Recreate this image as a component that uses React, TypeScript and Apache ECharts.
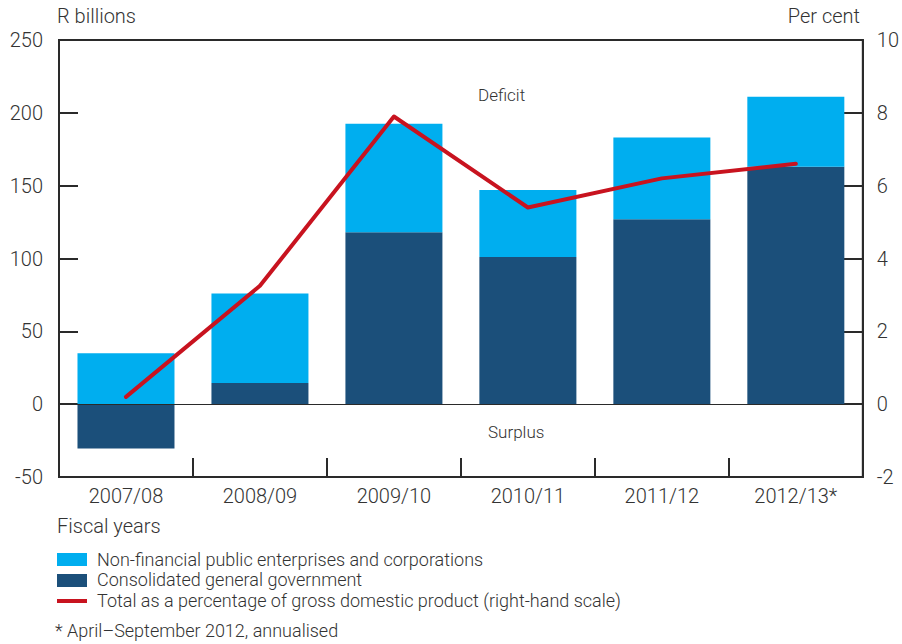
import React, { useEffect, useRef } from "react";
import * as echarts from "echarts";

const categories = ["2007/08", "2008/09", "2009/10", "2010/11", "2011/12", "2012/13*"];
const generalGovernment = [-30.5, 14.5, 118, 101, 127, 163];
const publicEnterprises = [35, 61.5, 74.5, 46, 56, 48];
const pctOfGdp = [0.2, 3.25, 7.9, 5.4, 6.2, 6.6];
const leftTicks = { min: -50, max: 250, interval: 50 };
const rightTicks = { min: -2, max: 10, interval: 2 };

const FONT = "Roboto, 'Liberation Sans', Arial, sans-serif";
const TXT = "#333333";
const LIGHT = "#00AEEF";
const DARK = "#1B4F7A";
const RED = "#C8131F";

export default function App() {
  const ref = useRef<HTMLDivElement>(null);
  useEffect(() => {
    document.body.style.margin = "0";
    const chart = echarts.init(ref.current!, null, { renderer: "svg" });
    const textStyle = { fontFamily: FONT, fontSize: 20, color: TXT, fontWeight: 300 };
    const small = { fontFamily: FONT, fontSize: 18, fontWeight: 300, fill: TXT };
    chart.setOption({
      animation: false,
      textStyle: { fontFamily: FONT },
      grid: {
        left: 59,
        right: 38,
        top: 40,
        bottom: 167,
        show: true,
        borderColor: "#2a2a2a",
        borderWidth: 2,
        backgroundColor: "transparent",
      },
      xAxis: {
        type: "category",
        data: categories,
        boundaryGap: true,
        axisLine: { show: true, onZero: false, lineStyle: { color: "#2a2a2a", width: 2 } },
        axisTick: { show: true, inside: true, length: 19, lineStyle: { color: "#2a2a2a", width: 2 } },
        axisLabel: { ...textStyle, margin: 9 },
      },
      yAxis: [
        {
          type: "value",
          ...leftTicks,
          position: "left",
          axisLine: { show: true, lineStyle: { color: "#2a2a2a", width: 2 } },
          axisTick: { show: true, inside: true, length: 19, lineStyle: { color: "#2a2a2a", width: 2 } },
          axisLabel: { ...textStyle, margin: 16 },
          splitLine: { show: false },
        },
        {
          type: "value",
          ...rightTicks,
          position: "right",
          axisLine: { show: true, lineStyle: { color: "#2a2a2a", width: 2 } },
          axisTick: { show: true, inside: true, length: 20, lineStyle: { color: "#2a2a2a", width: 2 } },
          axisLabel: { ...textStyle, margin: 14 },
          splitLine: { show: false },
        },
      ],
      series: [
        {
          name: "Consolidated general government",
          type: "bar",
          stack: "total",
          data: generalGovernment,
          barWidth: 97,
          itemStyle: { color: DARK },
          z: 2,
        },
        {
          name: "Non-financial public enterprises and corporations",
          type: "bar",
          stack: "total",
          data: publicEnterprises,
          barWidth: 97,
          itemStyle: { color: LIGHT },
          z: 2,
          markLine: {
            silent: true,
            symbol: "none",
            label: { show: false },
            lineStyle: { color: "#2a2a2a", width: 1, type: "solid" },
            data: [{ yAxis: 0 }],
            z: 3,
          },
        },
        {
          name: "Total as a percentage of gross domestic product (right-hand scale)",
          type: "line",
          yAxisIndex: 1,
          data: pctOfGdp,
          symbol: "none",
          lineStyle: { color: RED, width: 4, cap: "round", join: "round" },
          itemStyle: { color: RED },
          z: 5,
        },
      ],
      graphic: [
        { type: "text", x: 57, y: 6, style: { text: "R billions", fontFamily: FONT, fontSize: 20, fontWeight: 300, fill: TXT } },
        { type: "text", right: 42, top: 6, style: { text: "Per cent", fontFamily: FONT, fontSize: 20, fontWeight: 300, fill: TXT } },
        { type: "text", x: 478, y: 86, style: { text: "Deficit", ...small, fontSize: 17 } },
        { type: "text", x: 488, y: 423, style: { text: "Surplus", ...small, fontSize: 17 } },
        { type: "text", x: 57, y: 516, style: { text: "Fiscal years", fontFamily: FONT, fontSize: 20, fontWeight: 300, fill: TXT } },
        { type: "rect", shape: { x: 57, y: 553, width: 30, height: 13 }, style: { fill: LIGHT } },
        { type: "text", x: 97, y: 550, style: { text: "Non-financial public enterprises and corporations", ...small } },
        { type: "rect", shape: { x: 57, y: 574, width: 30, height: 13 }, style: { fill: DARK } },
        { type: "text", x: 97, y: 570, style: { text: "Consolidated general government", ...small } },
        { type: "rect", shape: { x: 57, y: 599, width: 30, height: 4 }, style: { fill: RED } },
        { type: "text", x: 97, y: 591, style: { text: "Total as a percentage of gross domestic product (right-hand scale)", ...small } },
        { type: "text", x: 55, y: 621, style: { text: "* April\u2013September 2012, annualised", ...small } },
      ],
    });
    return () => chart.dispose();
  }, []);
  return <div ref={ref} style={{ width: 902, height: 644 }} />;
}
